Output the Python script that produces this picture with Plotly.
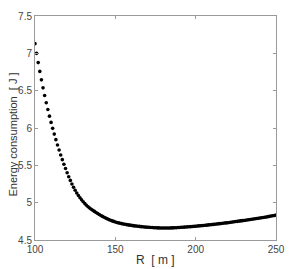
import plotly.graph_objects as go

R_values = list(range(100, 251))

energy_values = [
    7.130, 7.000, 6.876, 6.758, 6.645, 6.538, 6.436, 6.339, 6.247, 6.159,
    6.075, 5.995, 5.918, 5.844, 5.773, 5.705, 5.639, 5.576, 5.515, 5.457,
    5.401, 5.348, 5.298, 5.251, 5.207, 5.166, 5.129, 5.096, 5.066, 5.038,
    5.012, 4.988, 4.966, 4.946, 4.928, 4.912, 4.897, 4.883, 4.868, 4.854,
    4.841, 4.828, 4.816, 4.804, 4.793, 4.783, 4.773, 4.764, 4.756, 4.749,
    4.742, 4.735, 4.729, 4.724, 4.719, 4.714, 4.710, 4.706, 4.702, 4.699,
    4.696, 4.692, 4.689, 4.687, 4.684, 4.682, 4.679, 4.677, 4.675, 4.673,
    4.671, 4.670, 4.668, 4.667, 4.665, 4.664, 4.663, 4.662, 4.661, 4.661,
    4.660, 4.660, 4.660, 4.661, 4.661, 4.662, 4.663, 4.664, 4.665, 4.667,
    4.668, 4.670, 4.671, 4.673, 4.674, 4.676, 4.677, 4.679, 4.681, 4.683,
    4.685, 4.687, 4.689, 4.691, 4.693, 4.695, 4.697, 4.699, 4.702, 4.704,
    4.706, 4.709, 4.711, 4.714, 4.716, 4.719, 4.721, 4.724, 4.727, 4.729,
    4.732, 4.735, 4.738, 4.741, 4.744, 4.747, 4.750, 4.753, 4.756, 4.759,
    4.762, 4.765, 4.768, 4.772, 4.775, 4.778, 4.781, 4.785, 4.788, 4.792,
    4.795, 4.798, 4.802, 4.805, 4.809, 4.813, 4.817, 4.821, 4.825, 4.829,
    4.834,
]

x_ticks = [100, 150, 200, 250]
x_tick_labels = ["100", "150", "200", "250"]
y_ticks = [4.5, 5, 5.5, 6, 6.5, 7, 7.5]
y_tick_labels = ["4.5", "5", "5.5", "6", "6.5", "7", "7.5"]

x_title = "R  [ m ]"
y_title = "Energy consumption  [ J ]"

fig = go.Figure()
fig.add_trace(go.Scatter(
    x=R_values, y=energy_values, mode="markers",
    marker=dict(color="black", size=3.6, line=dict(width=0)),
    showlegend=False,
))

axis_common = dict(
    showline=True, mirror="ticks", linecolor="#9a9a9a", linewidth=1,
    ticks="inside", ticklen=3, tickcolor="#9a9a9a", tickwidth=1,
    showgrid=False, zeroline=False,
    tickfont=dict(family="Liberation Sans, Arial, sans-serif", size=10, color="#444444"),
)

fig.update_layout(
    width=295, height=269,
    margin=dict(l=35, r=10, t=11, b=29),
    paper_bgcolor="white", plot_bgcolor="white",
    xaxis=dict(range=[100, 250], tickvals=x_ticks, ticktext=x_tick_labels, **axis_common),
    yaxis=dict(range=[4.5, 7.5], tickvals=y_ticks, ticktext=y_tick_labels, **axis_common),
    annotations=[
        dict(text=x_title, xref="paper", yref="paper", x=0.5, y=-0.088,
             xanchor="center", yanchor="middle", showarrow=False,
             font=dict(family="Liberation Sans, Arial, sans-serif", size=12, color="#333333")),
        dict(text=y_title, xref="paper", yref="paper", x=-0.092, y=0.47,
             xanchor="center", yanchor="middle", textangle=-90, showarrow=False,
             font=dict(family="Liberation Sans, Arial, sans-serif", size=11, color="#333333")),
    ],
)

fig.write_html("out.html")
